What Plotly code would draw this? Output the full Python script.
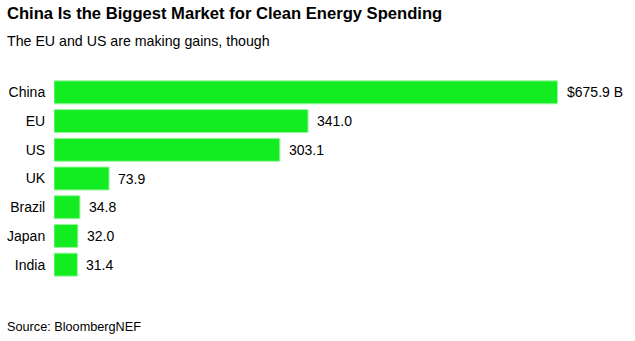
import plotly.graph_objects as go

countries = ["China", "EU", "US", "UK", "Brazil", "Japan", "India"]
values = [675.9, 341.0, 303.1, 73.9, 34.8, 32.0, 31.4]
value_labels = ["$675.9 B", "341.0", "303.1", "73.9", "34.8", "32.0", "31.4"]

title = "China Is the Biggest Market for Clean Energy Spending"
subtitle = "The EU and US are making gains, though"
source = "Source: BloombergNEF"

W, H = 635, 341
ML, MR, MT, MB = 54, 0, 78, 62
PW = W - ML - MR
PH = H - MT - MB

def px_x(px):
    return (px - ML) / PW

def px_y(py):
    return (H - MB - py) / PH

FONT = "Liberation Sans, Arial, Helvetica, sans-serif"

fig = go.Figure()
fig.add_trace(go.Bar(
    x=values, y=countries, orientation="h",
    marker=dict(color="#14EC22", line=dict(color="#9CF5A2", width=1)),
    hoverinfo="skip",
))

annotations = []
for c, v, lab in zip(countries, values, value_labels):
    annotations.append(dict(x=v, y=c, xref="x", yref="y", text=lab, showarrow=False,
                            xanchor="left", yanchor="middle", xshift=7,
                            font=dict(family=FONT, size=14, color="#000")))

annotations += [
    dict(x=px_x(5), y=px_y(14), xref="paper", yref="paper", text="<b>" + title + "</b>",
         showarrow=False, xanchor="left", yanchor="middle",
         font=dict(family=FONT, size=16.6, color="#000")),
    dict(x=px_x(5), y=px_y(41), xref="paper", yref="paper", text=subtitle,
         showarrow=False, xanchor="left", yanchor="middle",
         font=dict(family=FONT, size=14.2, color="#000")),
    dict(x=px_x(5), y=px_y(327), xref="paper", yref="paper", text=source,
         showarrow=False, xanchor="left", yanchor="middle",
         font=dict(family=FONT, size=12.7, color="#000")),
]

fig.update_layout(
    width=W, height=H,
    margin=dict(l=ML, r=MR, t=MT, b=MB, pad=0),
    paper_bgcolor="white", plot_bgcolor="white",
    bargap=0.2,
    showlegend=False,
    annotations=annotations,
    xaxis=dict(range=[0, PW / 0.745], visible=False, fixedrange=True),
    yaxis=dict(categoryorder="array", categoryarray=countries, autorange="reversed",
               showgrid=False, zeroline=False, showline=False,
               ticks="outside", ticklen=5, tickcolor="rgba(0,0,0,0)",
               tickfont=dict(family=FONT, size=14, color="#000"), fixedrange=True),
)

fig.write_html("out.html", config={"displayModeBar": False})
